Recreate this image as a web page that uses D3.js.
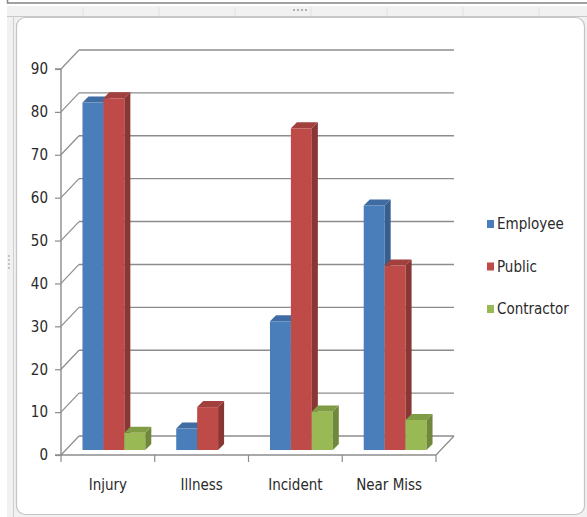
<!DOCTYPE html>
<html>
<head>
<meta charset="utf-8">
<script src="https://cdn.jsdelivr.net/npm/d3@7"></script>
<style>
  html, body { margin: 0; padding: 0; background: #ffffff; }
  svg { display: block; }
  text { font-family: "Liberation Sans Narrow", "DejaVu Sans Condensed", "Liberation Sans", sans-serif; fill: #2a2a2a; }
</style>
</head>
<body>
<svg id="chart" width="587" height="517"></svg>
<script>
// Incident counts by category and reporting group
const categories = ["Injury", "Illness", "Incident", "Near Miss"];
const series = ["Employee", "Public", "Contractor"];
const employee = [81, 5, 30, 57];
const publicVals = [82, 10, 75, 43];
const contractor = [4, 0, 9, 7];
const yTicks = [0, 10, 20, 30, 40, 50, 60, 70, 80, 90];

const values = [employee, publicVals, contractor];
const faces = [
  { front: "#4a7ebb", side: "#365e8f", top: "#3f6ca3" },
  { front: "#be4b48", side: "#8a3634", top: "#a2403d" },
  { front: "#98b954", side: "#6f883c", top: "#809d46" }
];

const svg = d3.select("#chart");

// ---- window frame around the embedded chart ----
svg.append("rect").attr("x", 7.5).attr("y", -4).attr("width", 584).attr("height", 7)
  .attr("fill", "none").attr("stroke", "#8a8a8a").attr("stroke-width", 1.6);
svg.append("rect").attr("x", 7).attr("y", 6).attr("width", 580).attr("height", 511)
  .attr("fill", "#f1f1f1");
svg.append("line").attr("x1", 7).attr("x2", 587).attr("y1", 16.5).attr("y2", 16.5)
  .attr("stroke", "#c8c8c8");
svg.append("line").attr("x1", 13.5).attr("x2", 13.5).attr("y1", 16).attr("y2", 517)
  .attr("stroke", "#cfcfcf");
d3.range(1, 8).forEach(i => {
  svg.append("line").attr("x1", 7 + i * 76).attr("x2", 7 + i * 76).attr("y1", 7).attr("y2", 16)
    .attr("stroke", "#e0e0e0");
});
// grip dots on the top bar and the left bar
d3.range(4).forEach(i => {
  svg.append("rect").attr("x", 293 + i * 4).attr("y", 9).attr("width", 2).attr("height", 2).attr("fill", "#b0b0b0");
  svg.append("rect").attr("x", 8).attr("y", 255 + i * 4).attr("width", 2).attr("height", 2).attr("fill", "#c4c4c4");
});
svg.append("rect").attr("x", 16.5).attr("y", 17.5).attr("width", 568).attr("height", 497)
  .attr("rx", 9).attr("fill", "#ffffff").attr("stroke", "#c4c4c4").attr("stroke-width", 1.2);

// ---- scales (front plane) and depth offsets ----
const x = d3.scaleBand().domain(categories).range([61, 436]);
const y = d3.scaleLinear().domain([0, 90]).range([455, 69]);
const wallDx = 18, wallDy = -19;     // side wall / floor depth
const barOffX = 6, barOffY = -5;      // bars sit a little behind the front plane
const barDx = 6, barDy = -6;          // bar thickness in depth
const groupW = x.bandwidth() * 0.67;
const inner = d3.scaleBand().domain(series)
  .range([(x.bandwidth() - groupW) / 2, (x.bandwidth() + groupW) / 2]);

const grid = "#8c8c8c";
const g = svg.append("g");

// back wall gridlines and the diagonals running along the side wall
yTicks.forEach(v => {
  g.append("line")
    .attr("x1", x.range()[0] + wallDx).attr("x2", x.range()[1] + wallDx)
    .attr("y1", y(v) + wallDy).attr("y2", y(v) + wallDy)
    .attr("stroke", grid).attr("stroke-width", 1.4);
  g.append("line")
    .attr("x1", x.range()[0]).attr("y1", y(v))
    .attr("x2", x.range()[0] + wallDx).attr("y2", y(v) + wallDy)
    .attr("stroke", grid).attr("stroke-width", 1.2);
});

// floor edges
g.append("line").attr("x1", x.range()[0]).attr("x2", x.range()[1])
  .attr("y1", y(0)).attr("y2", y(0)).attr("stroke", grid).attr("stroke-width", 1.4);
g.append("line").attr("x1", x.range()[1]).attr("y1", y(0))
  .attr("x2", x.range()[1] + wallDx).attr("y2", y(0) + wallDy)
  .attr("stroke", grid).attr("stroke-width", 1.2);

// value axis
const yAxis = d3.axisLeft(y).tickValues(yTicks).tickSize(6).tickPadding(7).tickFormat(d3.format("d"));
const ya = svg.append("g").attr("transform", `translate(${x.range()[0]},0)`).call(yAxis);
ya.select(".domain").attr("stroke", grid).attr("stroke-width", 1.4).attr("d", `M-6,${y(0)}H0V${y(90)}H-6`);
ya.selectAll(".tick line").attr("stroke", grid).attr("stroke-width", 1.2);
ya.selectAll(".tick text").attr("font-size", 15).attr("fill", "#2a2a2a")
  .style("font-family", "\"Liberation Sans Narrow\", \"DejaVu Sans Condensed\", sans-serif");

// category axis
const xAxis = d3.axisBottom(x).tickSize(0).tickPadding(24);
const xa = svg.append("g").attr("transform", `translate(0,${y(0)})`).call(xAxis);
xa.select(".domain").remove();
xa.selectAll(".tick text").attr("font-size", 15).attr("fill", "#2a2a2a")
  .style("font-family", "\"Liberation Sans Narrow\", \"DejaVu Sans Condensed\", sans-serif");
[...categories.map(c => x(c)), x.range()[1]].forEach(px => {
  svg.append("line").attr("x1", px).attr("x2", px).attr("y1", y(0)).attr("y2", y(0) + 7)
    .attr("stroke", grid).attr("stroke-width", 1.2);
});

// 3D columns: front, right side and top faces
const bars = svg.append("g");
categories.forEach((c, ci) => {
  series.forEach((s, si) => {
    const v = values[si][ci];
    if (v <= 0) return;
    const x0 = x(c) + inner(s) + barOffX;
    const x1 = x0 + inner.bandwidth();
    const yb = y(0) + barOffY;
    const yt = y(v) + barOffY;
    const col = faces[si];
    bars.append("rect").attr("x", x0).attr("y", yt).attr("width", x1 - x0).attr("height", yb - yt)
      .attr("fill", col.front);
    bars.append("path")
      .attr("d", `M${x1},${yb}L${x1 + barDx},${yb + barDy}L${x1 + barDx},${yt + barDy}L${x1},${yt}Z`)
      .attr("fill", col.side);
    bars.append("path")
      .attr("d", `M${x0},${yt}L${x0 + barDx},${yt + barDy}L${x1 + barDx},${yt + barDy}L${x1},${yt}Z`)
      .attr("fill", col.top);
  });
});

// legend
const legend = svg.append("g").attr("transform", "translate(487,224)");
series.forEach((s, i) => {
  const row = legend.append("g").attr("transform", `translate(0,${i * 42.5})`);
  row.append("rect").attr("x", 0).attr("y", -4).attr("width", 7).attr("height", 8)
    .attr("fill", faces[i].front);
  row.append("text").attr("x", 10).attr("y", 0).attr("dy", "0.35em")
    .attr("font-size", 15).text(s);
});
</script>
</body>
</html>
